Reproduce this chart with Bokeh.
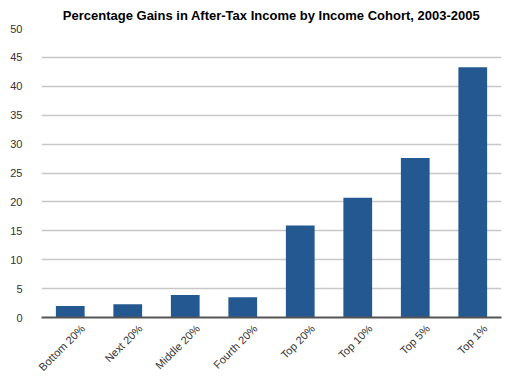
import math
from bokeh.plotting import figure
from bokeh.models import Range1d, FixedTicker, ColumnDataSource, LinearAxis
from bokeh.embed import file_html
from bokeh.resources import INLINE

categories = ["Bottom 20%", "Next 20%", "Middle 20%", "Fourth 20%",
              "Top 20%", "Top 10%", "Top 5%", "Top 1%"]
gains = [2.0, 2.3, 3.9, 3.5, 15.9, 20.7, 27.6, 43.3]
y_ticks = [0, 5, 10, 15, 20, 25, 30, 35, 40, 45, 50]
title_text = "Percentage Gains in After-Tax Income by Income Cohort, 2003-2005"

n = len(categories)
idx = list(range(n))
label_shift = 0.22  # label anchor shift (in category widths) to the right

p = figure(x_range=Range1d(-0.5, n - 0.5), y_range=Range1d(0, 50),
           width=521, height=380, output_backend="svg", toolbar_location=None,
           x_axis_location=None,
           min_border_left=41, min_border_right=20, min_border_top=27,
           min_border_bottom=63)
p.extra_x_ranges = {"lab": Range1d(-0.5 - label_shift, n - 0.5 - label_shift)}

p.title.text = title_text
p.title.text_font = "Liberation Sans"
p.title.text_font_size = "13px"
p.title.text_font_style = "bold"
p.title.align = "center"
p.title.standoff = 11
p.title.offset = 0
p.title.text_color = "#000000"

src = ColumnDataSource(data=dict(x=idx, cat=categories, val=gains))
p.vbar(x="x", top="val", width=0.5, fill_color="#245891", line_color=None, source=src)

p.outline_line_color = None
p.xgrid.grid_line_color = None
p.ygrid.ticker = FixedTicker(ticks=y_ticks)
p.ygrid.grid_line_color = "#c8c8c8"
p.ygrid.grid_line_width = 1.5

p.yaxis.ticker = FixedTicker(ticks=y_ticks)
p.yaxis.axis_line_color = None
p.yaxis.major_tick_line_color = None
p.yaxis.minor_tick_line_color = None
p.yaxis.major_label_standoff = 13
p.yaxis.major_label_text_font = "Liberation Sans"
p.yaxis.major_label_text_font_size = "11px"
p.yaxis.major_label_text_color = "#333333"

xaxis = LinearAxis(x_range_name="lab",
                   ticker=FixedTicker(ticks=idx),
                   major_label_overrides={i: c for i, c in zip(idx, categories)})
xaxis.axis_line_color = "#555555"
xaxis.axis_line_width = 2
xaxis.major_tick_line_color = None
xaxis.minor_tick_line_color = None
xaxis.major_label_orientation = math.pi / 4
xaxis.major_label_standoff = 3
xaxis.major_label_text_font = "Liberation Sans"
xaxis.major_label_text_font_size = "11px"
xaxis.major_label_text_color = "#333333"
p.add_layout(xaxis, "below")

open("out.html", "w").write(file_html(p, INLINE))
